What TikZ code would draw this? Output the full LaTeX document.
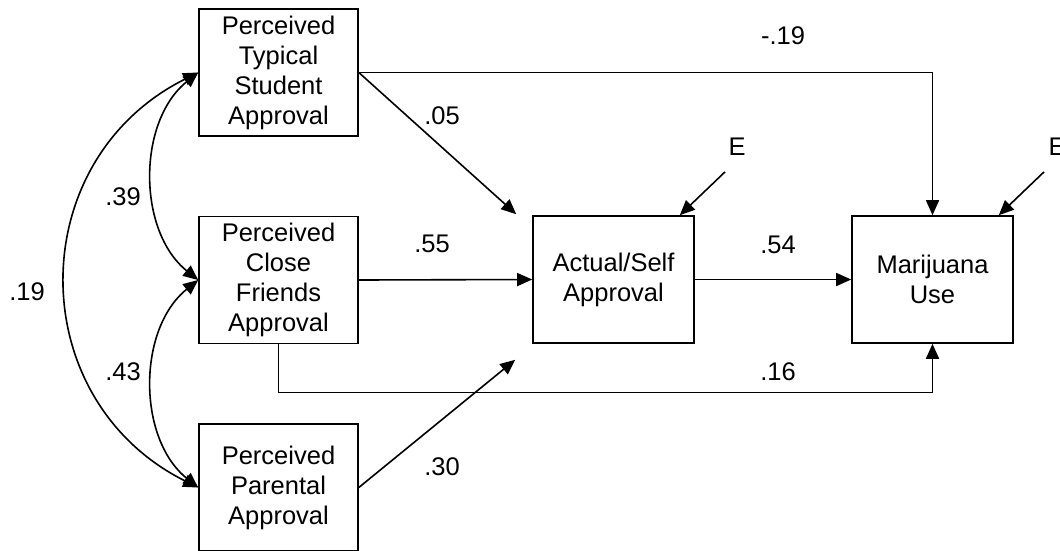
\documentclass[tikz,border=0pt]{standalone}
\usepackage{fontspec}
\setmainfont{Liberation Sans}
\usetikzlibrary{arrows.meta}

\begin{document}
\begin{tikzpicture}[x=1pt, y=-1pt, >={Triangle[length=15pt, width=13pt]}, line width=1.6pt,
  font=\fontsize{25.5}{30}\selectfont,
  box/.style={draw, align=center, inner sep=0pt, minimum width=159pt, minimum height=127pt},
  coef/.style={inner sep=0pt}]
  \useasboundingbox (0,0) rectangle (1060,550);

  \node[box] (typ) at (278.5,72.5) {Perceived\\Typical\\Student\\Approval};
  \node[box] (cls) at (278.5,280) {Perceived\\Close\\Friends\\Approval};
  \node[box] (par) at (278.5,487.5) {Perceived\\Parental\\Approval};
  \node[box, minimum width=161pt] (act) at (613.5,279.5) {Actual/Self\\Approval};
  \node[box, minimum width=161pt] (mar) at (932.5,279.5) {Marijuana\\Use};

  \node (ea) at (737,147) {E};
  \node (eb) at (1057,147) {E};

  \draw[->] (typ.east) -| (mar.north);
  \draw[->] (typ.east) -- ([xshift=-16pt, yshift=1pt]act.north west);
  \draw[->] (cls.east) -- (act.west);
  \draw[->] (act.east) -- (mar.west);
  \draw[->] (par.east) -- ([xshift=-17pt, yshift=-16pt]act.south west);
  \draw[->] (cls.south) -- ++(0,48) -| (mar.south);
  \draw[->] ([xshift=-12pt, yshift=-12pt]ea.south) -- ([xshift=-15pt]act.north east);
  \draw[->] ([xshift=-13pt, yshift=-12pt]eb.south) -- ([xshift=-15pt]mar.north east);

  \draw[<->] (typ.west) .. controls +(-61,49) and +(-61,-49) .. (cls.west);
  \draw[<->] (cls.west) .. controls +(-61,49) and +(-61,-49) .. (par.west);
  \draw[<->] (typ.west) .. controls +(-176,88) and +(-176,-88) .. (par.west);

  \node[coef] (c19n) at (783,36) {-.19};
  \node[coef] (c05) at (442,116) {.05};
  \node[coef] (c55) at (432,244) {.55};
  \node[coef] (c54) at (778,245) {.54};
  \node[coef] (c16) at (778,372) {.16};
  \node[coef] (c30) at (442,467) {.30};
  \node[coef] (c39) at (123,197) {.39};
  \node[coef] (c43) at (123,372) {.43};
  \node[coef] (c19) at (27,292) {.19};
\end{tikzpicture}
\end{document}
